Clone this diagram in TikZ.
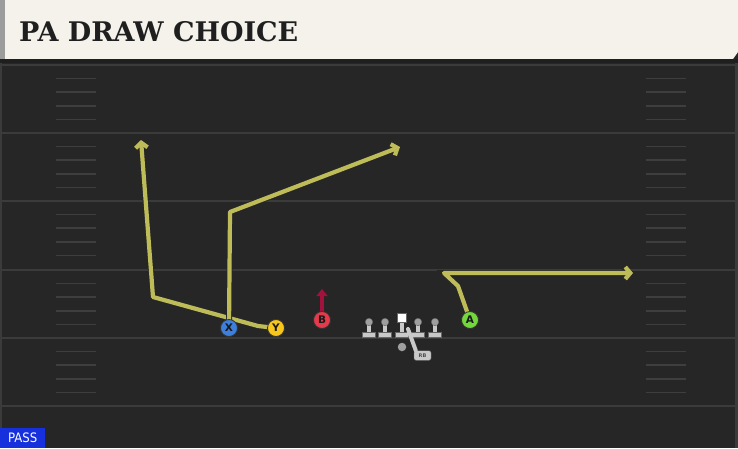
\documentclass[tikz,border=0pt]{standalone}
\usepackage{fontspec}
\setmainfont{DejaVu Sans}
\newfontfamily\titlefont{DejaVu Serif}
\newfontfamily\condfont{DejaVu Sans Condensed}
\usetikzlibrary{arrows.meta}
\definecolor{fieldbg}{HTML}{262626}
\definecolor{titlebg}{HTML}{F4F2EB}
\definecolor{stripgray}{HTML}{9C9C9C}
\definecolor{yardline}{HTML}{3B3B3B}
\definecolor{hashc}{HTML}{3E3E3E}
\definecolor{routec}{HTML}{BEBC58}
\definecolor{xblue}{HTML}{3D7FDA}
\definecolor{yyellow}{HTML}{F6C61C}
\definecolor{bred}{HTML}{E33A4C}
\definecolor{bdark}{HTML}{A3123C}
\definecolor{agreen}{HTML}{72D63C}
\definecolor{olgray}{HTML}{C9C9C9}
\definecolor{passblue}{HTML}{1530DC}
\tikzset{
  yard/.style={yardline, line width=2pt},
  hashmark/.style={hashc, line width=1.6pt},
  route/.style={routec, line width=4.2pt, line join=round,
    preaction={draw=black!85, line width=6pt}},
  routetip/.style={-{Straight Barb[length=5pt,width=12pt,line join=miter]}},
  player/.style={circle, draw=black!80, line width=0.8pt, minimum size=17pt, inner sep=0pt,
    font=\bfseries\fontsize{10.5}{10.5}\selectfont, text=black!90},
}
\begin{document}
\begin{tikzpicture}[x=1pt,y=-1pt]
\useasboundingbox (0,0) rectangle (738,448);
\fill[fieldbg] (0,0) rectangle (738,448);
% side borders
\fill[yardline] (0,63) rectangle (2,448);
\fill[yardline] (735,63) rectangle (738,448);
% title bar
\fill[titlebg] (0,0) -- (738,0) -- (738,52) -- (733,59) -- (0,59) -- cycle;
\fill[stripgray] (0,0) rectangle (5,59);
\fill[black!88] (0,59) rectangle (738,63);
\node[anchor=west, inner sep=0pt, font=\titlefont\bfseries\fontsize{27}{27}\selectfont, text=black!88] (title) at (19,32) {PA DRAW CHOICE};
% yard lines
\foreach \yy in {65,133,201,270,338,406} {
  \draw[yard] (0,\yy) -- (738,\yy);
}
% hash marks
\foreach \yy in {65,133,201,270,338} {
  \foreach \k in {1,2,3,4} {
    \draw[hashmark] (56,\yy+13.6*\k) -- (96,\yy+13.6*\k);
    \draw[hashmark] (646,\yy+13.6*\k) -- (686,\yy+13.6*\k);
  }
}
% PASS label
\node[anchor=south west, fill=passblue, text=white, minimum width=45pt, minimum height=20pt, inner sep=0pt,
  font=\condfont\fontsize{13}{13}\selectfont] (pass) at (0,448) {PASS};

% route coordinates
\coordinate (xbreak) at (230,212);
\coordinate (xend) at (400,147);
\coordinate (ybend1) at (258,326);
\coordinate (ycorner) at (153,297);
\coordinate (yend) at (141,140);
\coordinate (abend1) at (458,286);
\coordinate (acorner) at (444,273);
\coordinate (aend) at (633,273);
\coordinate (bend) at (322,289);
\coordinate (rbtip) at (408,329);

% players (positions)
\coordinate (Xc) at (229,328);
\coordinate (Yc) at (276,328);
\coordinate (Bc) at (322,320);
\coordinate (Ac) at (470,320);

% routes
\draw[route, routetip] (Yc) -- (ybend1) -- (ycorner) -- (yend);
\draw[route, routetip] (Xc) -- (xbreak) -- (xend);
\draw[route, routetip] (Ac) -- (abend1) -- (acorner) -- (aend);
\draw[bdark, line width=4pt, -{Triangle[length=7pt,width=11pt]}] (Bc) -- (bend);

% offensive line
\foreach \lx/\nm in {369/lt,385/lg,418/rg,435/rt} {
  \fill[olgray] (\lx-2,322) rectangle (\lx+2,333);
  \fill[olgray, draw=black!60, line width=0.4pt] (\lx-6.5,332) rectangle (\lx+6.5,337);
  \node[circle, fill=gray!75, draw=black!60, line width=0.4pt, minimum size=7.5pt, inner sep=0pt] (\nm) at (\lx,322) {};
}
\fill[olgray] (399.5,321) rectangle (403.5,333);
\fill[olgray, draw=black!60, line width=0.4pt] (395,332) rectangle (408,337);
\node[rectangle, fill=white, draw=black!60, line width=0.4pt, minimum size=9.5pt, inner sep=0pt] (C) at (401.5,317.5) {};
% QB
\node[circle, fill=gray!75, minimum size=8.5pt, inner sep=0pt] (QB) at (402,347) {};
% RB
\node[rounded corners=2pt, fill=olgray, draw=black!60, line width=0.4pt, minimum width=17pt, minimum height=9.5pt, inner sep=0pt,
  font=\bfseries\fontsize{5}{5}\selectfont, text=black!70] (RB) at (422.5,355.5) {RB};
\draw[olgray, line width=4pt, line cap=round] (RB.north west) ++(2,0) -- (rbtip);

% player circles
\node[player, fill=xblue] (X) at (Xc) {X};
\node[player, fill=yyellow] (Y) at (Yc) {Y};
\node[player, fill=bred] (B) at (Bc) {B};
\node[player, fill=agreen] (A) at (Ac) {A};
\end{tikzpicture}
\end{document}
